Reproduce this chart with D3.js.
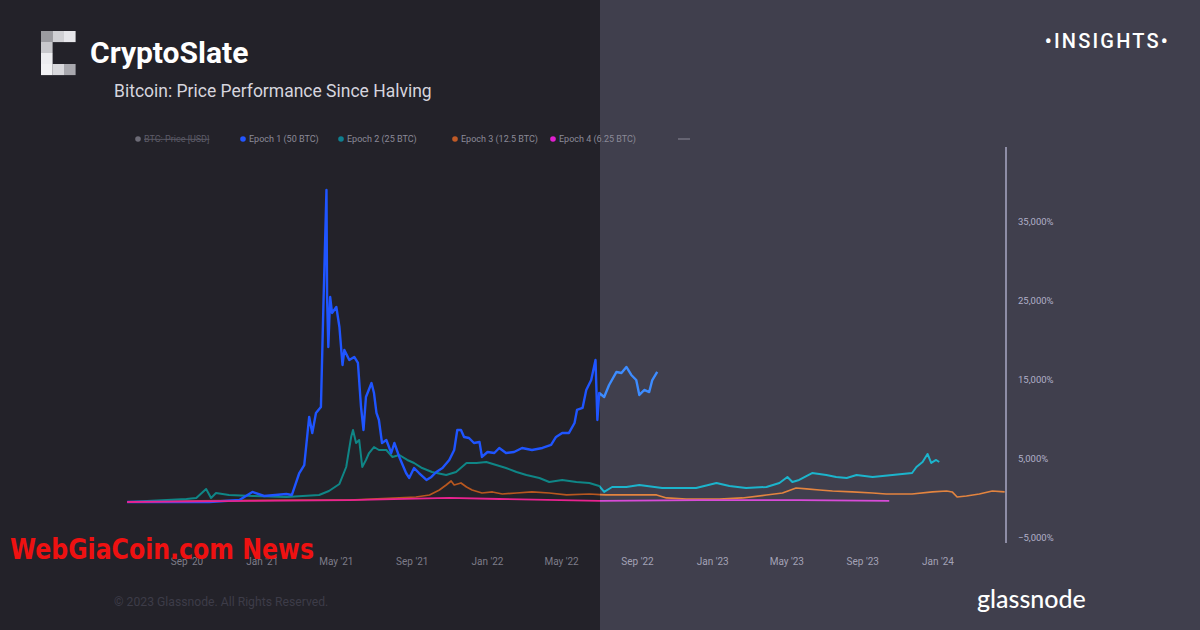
<!DOCTYPE html>
<html>
<head>
<meta charset="utf-8">
<script src="https://cdn.jsdelivr.net/npm/d3@7"></script>
<style>
  html, body { margin: 0; padding: 0; background: #232229; }
  svg { display: block; font-family: Roboto, "Noto Sans", sans-serif; }
</style>
</head>
<body>
<div id="chart"></div>
<script>
// days since halving start (2020-05-27 on this axis), performance in %
const baseDate = new Date(2020, 4, 27);

const epoch1 = [
  [0, 0], [133, 0], [182, 250], [203, 1270], [222, 760], [258, 1010], [267, 890],
  [279, 3670], [287, 4680], [295, 10760], [300, 8740], [306, 11270], [314, 12030],
  [318, 24690], [323, 39500], [324, 25950], [326, 19620], [329, 25950], [332, 23930],
  [339, 24690], [344, 22150], [349, 17340], [352, 19240], [360, 17980], [368, 18360],
  [374, 17600], [379, 12030], [383, 9110], [387, 13290], [396, 15060], [400, 13800],
  [404, 11270], [408, 10380], [413, 7470], [420, 7850], [428, 6200], [433, 7470],
  [441, 5700], [452, 3670], [457, 3040], [465, 4300], [473, 3670], [485, 2790],
  [493, 3170], [501, 3800], [511, 4300], [522, 5320], [530, 6580], [535, 9110],
  [541, 9110], [546, 8230], [554, 8100], [562, 7470], [571, 7600], [575, 5700],
  [584, 6330], [595, 6200], [603, 6840], [614, 6200], [627, 6330], [640, 6840],
  [656, 6580], [673, 6840], [687, 7220], [695, 8230], [705, 8740], [716, 8740],
  [725, 10000], [729, 11650], [738, 11900], [744, 14180], [752, 15440], [759, 17980],
  [762, 10380], [765, 13800], [773, 13290], [781, 14810], [793, 16460], [801, 16330],
  [809, 17090], [817, 16080], [825, 15440], [830, 13550], [838, 14180], [846, 13920],
  [851, 15440], [859, 16460]
];

const epoch2 = [
  [0, 0], [96, 380], [112, 510], [128, 1650], [136, 510], [144, 1140], [165, 890],
  [203, 760], [258, 630], [311, 890], [327, 1390], [344, 2280], [355, 4430],
  [363, 8230], [366, 9110], [371, 7470], [376, 7850], [381, 4430], [387, 5320],
  [392, 6200], [400, 6960], [408, 6580], [420, 6580], [430, 5700], [441, 5950],
  [454, 5320], [465, 4940], [478, 4300], [494, 3800], [517, 3420], [533, 3800],
  [550, 4940], [566, 4940], [582, 5060], [598, 4680], [614, 4300], [631, 3800],
  [647, 3420], [668, 3040], [684, 2530], [705, 2790], [728, 2530], [749, 2410],
  [765, 2030], [773, 1270], [786, 1900], [809, 1900], [830, 2150], [867, 1770],
  [922, 1770], [955, 2410], [976, 2030], [1003, 1770], [1036, 1900], [1057, 2410],
  [1070, 3170], [1078, 2530], [1089, 2790], [1110, 3670], [1133, 3420], [1149, 3170],
  [1166, 3040], [1182, 3420], [1208, 3170], [1240, 3420], [1272, 3670], [1279, 4430],
  [1289, 5060], [1297, 6080], [1303, 4940], [1311, 5320], [1316, 5060]
];

const epoch3 = [
  [0, 0], [117, 130], [279, 250], [360, 250], [441, 510], [468, 630], [490, 890],
  [506, 1520], [517, 2150], [525, 2660], [530, 2150], [541, 2410], [550, 1900],
  [559, 1520], [575, 1140], [592, 1270], [608, 1010], [631, 1140], [656, 1270],
  [684, 1140], [712, 890], [749, 1010], [776, 890], [819, 890], [858, 890],
  [874, 510], [906, 380], [960, 380], [997, 510], [1036, 890], [1062, 1140],
  [1084, 1770], [1101, 1650], [1122, 1520], [1143, 1390], [1175, 1270], [1208, 1140],
  [1230, 1010], [1272, 1010], [1305, 1270], [1328, 1390], [1337, 1270], [1345, 630],
  [1360, 760], [1381, 1010], [1402, 1390], [1422, 1270]
];

const epoch4 = [
  [0, 0], [198, 130], [360, 250], [522, 510], [603, 380], [765, 130], [927, 250],
  [1089, 250], [1235, 130]
];

const legendLabels = ["BTC: Price [USD]", "Epoch 1 (50 BTC)", "Epoch 2 (25 BTC)", "Epoch 3 (12.5 BTC)", "Epoch 4 (6.25 BTC)"];
const yTicks = [-5000, 5000, 15000, 25000, 35000];

const W = 1200, H = 630;
const splitX = 600;

const svg = d3.select("#chart").append("svg").attr("width", W).attr("height", H);

svg.append("rect").attr("width", W).attr("height", H).attr("fill", "#232229");
svg.append("rect").attr("x", splitX).attr("width", W - splitX).attr("height", H).attr("fill", "#403f4d");

const x = d3.scaleTime()
  .domain([new Date(2020, 8, 1), new Date(2024, 0, 1)])
  .range([187, 938]);
const y = d3.scaleLinear().domain([-5000, 35000]).range([541.5, 225.5]);

const toDate = (d) => d3.timeDay.offset(baseDate, d);

const series = [
  { data: epoch3, dark: "#b8571f", light: "#e3843f", w: 1.7 },
  { data: epoch2, dark: "#0f8686", light: "#1cb4cc", w: 2 },
  { data: epoch1, dark: "#1f55ff", light: "#3d8cff", w: 2.4 },
  { data: epoch4, dark: "#e8238f", light: "#d84bd8", w: 1.8 }
];

const defs = svg.append("defs");
defs.append("clipPath").attr("id", "clipL").append("rect")
  .attr("x", 0).attr("y", 0).attr("width", splitX).attr("height", H);
defs.append("clipPath").attr("id", "clipR").append("rect")
  .attr("x", splitX).attr("y", 0).attr("width", W - splitX).attr("height", H);

const line = d3.line()
  .x((d) => x(toDate(d[0])))
  .y((d) => y(d[1]));

["clipL", "clipR"].forEach((clip) => {
  const g = svg.append("g").attr("clip-path", `url(#${clip})`);
  series.forEach((s) => {
    g.append("path")
      .datum(s.data)
      .attr("fill", "none")
      .attr("stroke", clip == "clipL" ? s.dark : s.light)
      .attr("stroke-width", s.w)
      .attr("stroke-linejoin", "round")
      .attr("d", line);
  });
});

// y axis
svg.append("line")
  .attr("x1", 1006).attr("x2", 1006)
  .attr("y1", 147).attr("y2", 543)
  .attr("stroke", "#a9a8c4").attr("stroke-width", 1.5);

svg.selectAll("text.ytick")
  .data(yTicks)
  .enter()
  .append("text")
  .attr("class", "ytick")
  .attr("x", 1018)
  .attr("y", (d) => y(d) - 3.5)
  .attr("dominant-baseline", "middle")
  .style("font-size", "9.5px")
  .style("fill", "#b0afc8")
  .text((d) => d3.format(",")(d) + "%");

// x axis labels
const xTicks = x.ticks(d3.timeMonth.every(4));
svg.selectAll("text.xtick")
  .data(xTicks)
  .enter()
  .append("text")
  .attr("class", "xtick")
  .attr("x", (d) => x(d))
  .attr("y", 565)
  .attr("text-anchor", "middle")
  .style("font-size", "10px")
  .style("fill", (d) => (x(d) < splitX ? "#7d7c88" : "#a3a2b6"))
  .text((d) => d3.timeFormat("%b '%y")(d));

// legend
const legendColors = ["#6c6b76", "#2356ff", "#0f7f8f", "#c05a26", "#e01fd0"];
const legendX = [138, 243, 341, 455, 553];
const lg = svg.append("g").style("font-size", "9px");
legendLabels.forEach((t, i) => {
  lg.append("circle").attr("cx", legendX[i]).attr("cy", 139).attr("r", 2.8).attr("fill", legendColors[i]);
  lg.append("text")
    .attr("x", legendX[i] + 6).attr("y", 142)
    .style("fill", i == 0 ? "#5d5c68" : "#8b8a98")
    .style("text-decoration", i == 0 ? "line-through" : "none")
    .text(t);
});
lg.append("line").attr("x1", 678).attr("x2", 690).attr("y1", 139).attr("y2", 139)
  .attr("stroke", "#8b8a98").attr("stroke-width", 1);

// header logo (pixel C)
const logoCells = [
  [0, 0, "#9b9ba0"], [1, 0, "#d0d0d4"], [2, 0, "#e6e6ea"],
  [0, 1, "#c8c8cc"], [0, 2, "#ededf0"], [0, 3, "#f2f2f4"],
  [1, 3, "#d8d8dc"], [2, 3, "#a8a8ae"]
];
const logo = svg.append("g").attr("transform", "translate(41,31)");
logo.selectAll("rect")
  .data(logoCells)
  .enter()
  .append("rect")
  .attr("x", (d) => d[0] * 11.5)
  .attr("y", (d) => d[1] * 11)
  .attr("width", 11.6)
  .attr("height", 11.1)
  .attr("fill", (d) => d[2]);

svg.append("text").attr("x", 90).attr("y", 63)
  .style("font-size", "30px").style("font-weight", 700).style("fill", "#ffffff")
  .text("CryptoSlate");
svg.append("text").attr("x", 114).attr("y", 97)
  .style("font-size", "17.5px").style("fill", "#d6d5de")
  .text("Bitcoin: Price Performance Since Halving");

svg.append("text").attr("x", 1170).attr("y", 48).attr("text-anchor", "end")
  .style("font-size", "20px").style("font-weight", 500).style("letter-spacing", "2.2px")
  .style("fill", "#ffffff")
  .text("•INSIGHTS•");

// footer
svg.append("text").attr("x", 114).attr("y", 606)
  .style("font-size", "12.2px").style("fill", "#3d3c48")
  .text("© 2023 Glassnode. All Rights Reserved.");
svg.append("text").attr("x", 977).attr("y", 608)
  .style("font-size", "25px").style("font-weight", 500).style("fill", "#ffffff")
  .style("font-family", "Lato, sans-serif")
  .text("glassnode");

// watermark
svg.append("text").attr("x", 10).attr("y", 559)
  .attr("textLength", 304).attr("lengthAdjust", "spacingAndGlyphs")
  .style("font-size", "28px").style("font-weight", 700).style("fill", "#ee1111")
  .style("font-family", "'DejaVu Sans Condensed', 'DejaVu Sans', sans-serif")
  .text("WebGiaCoin.com News");
</script>
</body>
</html>
